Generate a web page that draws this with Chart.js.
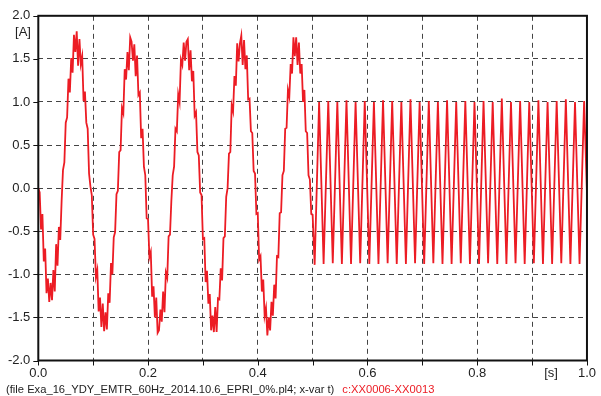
<!DOCTYPE html>
<html>
<head>
<meta charset="utf-8">
<script src="https://cdn.jsdelivr.net/npm/chart.js@4.4.1/dist/chart.umd.min.js"></script>
<style>
  html, body { margin: 0; padding: 0; background: #fff; }
</style>
</head>
<body>
<canvas id="currentChart" width="601" height="396"></canvas>
<script>
// transient part, sampled every 2.5 ms from t = 0 to t = 0.5 s
const sampleStep = 0.0025;
const firstHalfCurrent = [
    0.00, -0.05, -0.48, -0.30, -0.85, -0.70, -1.22, -1.05, -1.32, -1.10,
    -1.30, -0.95, -1.20, -0.65, -0.90, -0.45, -0.60, -0.15,
    // cycle 1
    0.21, 0.30, 0.76, 0.82, 1.27, 1.11, 1.51, 1.34, 1.78, 1.58,
    1.82, 1.42, 1.73, 1.44, 1.53, 1.01, 1.12, 0.76, 0.69, 0.17,
    0.02, -0.08, -0.54, -0.59, -1.03, -0.95, -1.43, -1.27, -1.61, -1.34,
    -1.66, -1.44, -1.64, -1.22, -1.33, -0.87, -1.00, -0.57, -0.51, -0.07,
    // cycle 2
    -0.03, 0.42, 0.44, 0.93, 0.87, 1.38, 1.26, 1.58, 1.37, 1.75,
    1.70, 1.48, 1.67, 1.30, 1.54, 1.08, 1.11, 0.58, 0.69, 0.25,
    0.15, -0.35, -0.36, -0.80, -0.74, -1.26, -1.14, -1.50, -1.27, -1.68,
    -1.65, -1.41, -1.55, -1.20, -1.44, -0.98, -1.04, -0.56, -0.54, -0.15,
    // cycle 3
    0.15, 0.25, 0.69, 0.66, 1.09, 1.00, 1.49, 1.43, 1.69, 1.48,
    1.70, 1.73, 1.37, 1.60, 1.24, 1.36, 0.84, 0.88, 0.42, 0.38,
    -0.05, -0.08, -0.59, -0.58, -1.09, -0.96, -1.34, -1.23, -1.65, -1.48,
    -1.67, -1.38, -1.67, -1.28, -1.29, -0.93, -1.07, -0.58, -0.56, -0.10,
    // cycle 4
    0.00, 0.40, 0.42, 0.96, 0.89, 1.30, 1.19, 1.68, 1.47, 1.68,
    1.77, 1.43, 1.72, 1.38, 1.54, 1.03, 1.04, 0.66, 0.64, 0.20,
    0.17, -0.30, -0.29, -0.83, -0.79, -1.20, -1.06, -1.48, -1.39, -1.71,
    -1.50, -1.65, -1.32, -1.48, -1.12, -1.28, -0.79, -0.80, -0.29, -0.28,
    // cycle 5 (cut at 0.5 s)
    0.15, 0.20, 0.69, 0.70, 1.14, 1.06, 1.44, 1.33, 1.75, 1.53,
    1.75, 1.43, 1.69, 1.33, 1.44, 1.00, 1.14, 0.66, 0.64, 0.15,
    0.10, -0.30, -0.31
];

// after 0.5 s: turning points of the 60 Hz triangle-like wave
const tailTimes = [
    0.5037, 0.5118, 0.5200, 0.5285, 0.5367, 0.5450, 0.5533, 0.5617, 0.5700, 0.5783,
    0.5867, 0.5950, 0.6033, 0.6117, 0.6200, 0.6283, 0.6367, 0.6450, 0.6533, 0.6617,
    0.6700, 0.6783, 0.6867, 0.6950, 0.7033, 0.7117, 0.7200, 0.7283, 0.7367, 0.7450,
    0.7533, 0.7617, 0.7700, 0.7783, 0.7867, 0.7950, 0.8033, 0.8115, 0.8198, 0.8282,
    0.8365, 0.8448, 0.8532, 0.8615, 0.8698, 0.8782, 0.8865, 0.8948, 0.9032, 0.9115,
    0.9198, 0.9282, 0.9365, 0.9448, 0.9532, 0.9615, 0.9698, 0.9782, 0.9865, 0.9948,
    1.0000
];
const tailCurrent = [
    -0.89, 1.00, -0.88, 1.01, -0.87, 1.00, -0.88, 1.02, -0.88, 1.00,
    -0.87, 1.01, -0.88, 1.00, -0.88, 1.02, -0.87, 1.01, -0.88, 1.00,
    -0.88, 1.03, -0.87, 1.00, -0.88, 1.01, -0.87, 1.00, -0.88, 1.02,
    -0.88, 1.00, -0.87, 1.01, -0.88, 1.00, -0.88, 1.01, -0.87, 1.00,
    -0.88, 1.04, -0.88, 1.00, -0.87, 1.01, -0.88, 1.00, -0.87, 1.02,
    -0.88, 1.00, -0.88, 1.01, -0.87, 1.03, -0.88, 1.00, -0.88, 1.01,
    -0.06
];

const xTickLabels = ['0.0', '', '0.2', '', '0.4', '', '0.6', '', '0.8', '', '1.0'];
const yTickLabels = ['-2.0', '-1.5', '-1.0', '-0.5', '0.0', '0.5', '1.0', '1.5', '2.0'];
const yUnit = '[A]';
const xUnit = '[s]';
const footerText = '(file Exa_16_YDY_EMTR_60Hz_2014.10.6_EPRI_0%.pl4; x-var t)';
const footerCurve = 'c:XX0006-XX0013';

const points = firstHalfCurrent.map((v, i) => ({ x: i * sampleStep, y: v }))
    .concat(tailTimes.map((t, i) => ({ x: t, y: tailCurrent[i] })));

const FONT = '"Liberation Sans", Arial, Helvetica, sans-serif';
const RED = '#ec1c24';

const framePlugin = {
    id: 'frame',
    afterDraw(chart) {
        const { ctx, chartArea: a, scales } = chart;
        ctx.save();
        // tick marks
        ctx.strokeStyle = '#111';
        ctx.lineWidth = 1;
        ctx.beginPath();
        scales.y.ticks.forEach(t => {
            const y = Math.round(scales.y.getPixelForValue(t.value)) + 0.5;
            ctx.moveTo(a.left - 5, y);
            ctx.lineTo(a.left, y);
        });
        scales.x.ticks.forEach(t => {
            const x = Math.round(scales.x.getPixelForValue(t.value)) + 0.5;
            ctx.moveTo(x, a.bottom);
            ctx.lineTo(x, a.bottom + 5);
        });
        ctx.stroke();
        // frame
        ctx.lineWidth = 2;
        ctx.strokeStyle = '#111';
        ctx.strokeRect(a.left, a.top, a.right - a.left, a.bottom - a.top);

        // unit labels
        ctx.font = '13px ' + FONT;
        ctx.fillStyle = '#222';
        ctx.textAlign = 'center';
        ctx.textBaseline = 'middle';
        ctx.fillText(yUnit, 23, 32);
        ctx.fillText(xUnit, 551, 373);

        // footer
        ctx.font = '11.2px ' + FONT;
        ctx.textAlign = 'left';
        ctx.fillStyle = '#222';
        ctx.fillText(footerText, 6, 390);
        const w = ctx.measureText(footerText).width;
        ctx.fillStyle = RED;
        ctx.fillText(footerCurve, 6 + w + 8, 390);
        ctx.restore();
    }
};

new Chart(document.getElementById('currentChart'), {
    type: 'line',
    data: {
        datasets: [{
            data: points,
            borderColor: RED,
            borderWidth: 1.8,
            pointRadius: 0,
            tension: 0,
            fill: false
        }]
    },
    options: {
        responsive: false,
        animation: false,
        devicePixelRatio: 1,
        layout: { padding: { top: 11, right: 10, left: 0, bottom: 0 } },
        plugins: {
            legend: { display: false },
            tooltip: { enabled: false }
        },
        scales: {
            x: {
                type: 'linear',
                min: 0,
                max: 1,
                afterFit: scale => { scale.height = 35.5; },
                ticks: {
                    stepSize: 0.1,
                    autoSkip: false,
                    maxRotation: 0,
                    padding: 5,
                    color: '#222',
                    font: { size: 13, family: FONT },
                    callback: (v, i) => xTickLabels[i]
                },
                grid: { color: '#444', lineWidth: 1, drawTicks: false },
                border: { display: false, dash: [5, 4] }
            },
            y: {
                min: -2,
                max: 2,
                afterFit: scale => { scale.width = 38.3; },
                ticks: {
                    stepSize: 0.5,
                    padding: 8,
                    color: '#222',
                    font: { size: 13, family: FONT },
                    callback: (v, i) => yTickLabels[i]
                },
                grid: { color: '#444', lineWidth: 1, drawTicks: false },
                border: { display: false, dash: [5, 4] }
            }
        }
    },
    plugins: [framePlugin]
});
</script>
</body>
</html>
